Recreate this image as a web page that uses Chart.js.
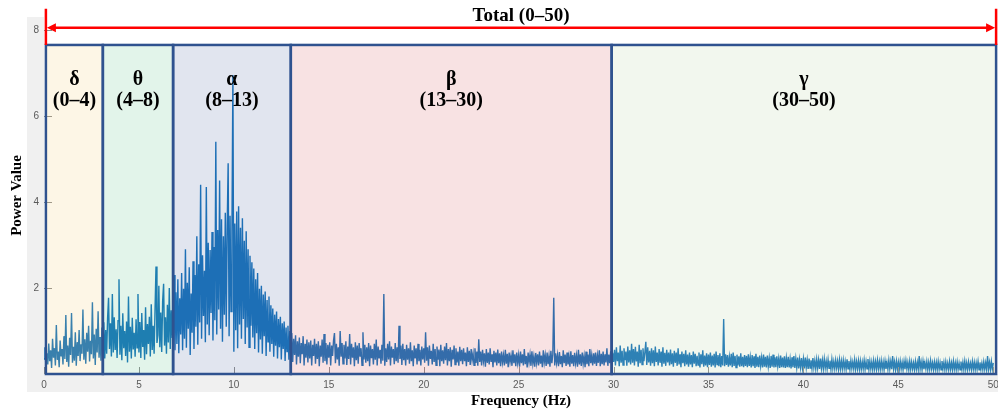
<!DOCTYPE html>
<html>
<head>
<meta charset="utf-8">
<script src="https://cdn.jsdelivr.net/npm/chart.js@4.4.0/dist/chart.umd.min.js"></script>
<style>
  html, body { margin: 0; padding: 0; background: #fff; }
  canvas { display: block; }
</style>
</head>
<body>
<canvas id="grafico" width="998" height="412"></canvas>
<script>
// espectro de potência, uma amostra a cada 0.05 Hz (0 a 50 Hz), uma linha por Hz
const freqStep = 0.05;
const powerValues = [
  0.35,0.62,0.18,0.48,0.22,0.71,0.3,0.55,0.14,0.82,0.38,0.6,0.2,1.14,0.33,0.52,0.16,0.78,0.41,0.58,
  0.22,0.88,0.35,1.37,0.28,0.66,0.17,0.84,0.44,1.42,0.26,0.63,0.31,0.97,0.19,0.74,0.42,1.02,0.3,0.69,
  0.47,1.5,0.33,0.81,0.24,0.96,0.52,1.12,0.29,0.77,0.46,1.67,0.36,0.92,0.21,1.05,0.5,1.46,0.38,0.86,
  0.31,1.08,0.52,1.2,0.36,1.02,0.47,1.3,1.77,0.58,1.18,0.41,1.86,0.5,1.32,0.56,1.04,0.37,1.24,2.2,
  0.45,1.12,0.32,1.41,0.6,1.0,0.42,1.22,0.27,1.8,0.52,1.1,0.36,1.31,0.57,0.96,0.4,1.27,0.61,1.86,
  0.5,1.21,0.37,1.42,0.63,1.02,0.33,1.55,0.46,1.16,0.7,1.33,0.41,1.62,0.56,1.12,0.47,1.52,2.5,0.72,
  0.9,2.05,0.62,1.43,0.51,1.7,2.1,0.66,1.32,0.47,1.61,0.73,2.0,0.58,1.48,0.84,1.66,2.3,0.55,1.9,
  0.7,2.2,0.48,1.76,0.92,2.35,0.55,1.98,0.82,2.9,0.61,2.12,1.05,2.48,0.44,1.87,0.96,2.62,0.58,2.3,
  1.1,3.2,0.68,2.55,1.2,4.4,0.82,2.76,1.35,2.4,0.74,4.35,1.15,3.05,0.9,2.88,1.42,3.3,0.78,2.95,
  1.25,5.4,0.92,3.35,1.5,4.5,1.05,3.6,0.75,3.2,1.38,3.75,1.1,3.45,4.9,0.88,3.68,1.45,3.3,6.95,
  0.52,3.5,1.02,3.78,0.6,3.9,1.15,3.4,0.82,3.62,1.28,3.1,0.7,3.32,1.08,2.9,0.62,2.75,1.12,2.6,
  0.85,2.45,0.58,2.2,0.95,2.35,0.5,1.98,0.8,2.05,0.47,1.85,0.88,1.92,0.42,1.72,0.75,1.8,0.52,1.6,
  0.7,1.52,0.4,1.38,0.66,1.45,0.36,1.28,0.62,1.33,0.34,1.18,0.58,1.22,0.3,1.08,0.52,1.12,0.33,1.0,
  0.48,0.95,0.28,0.82,0.44,0.9,0.22,0.76,0.4,0.85,0.25,0.72,0.46,0.88,0.2,0.7,0.38,0.8,0.27,0.74,
  0.36,0.78,0.2,0.68,0.42,0.82,0.24,0.7,0.35,0.76,0.18,0.66,0.4,0.8,0.26,0.93,0.3,0.72,0.22,0.68,
  0.38,0.74,0.2,0.66,0.42,0.78,0.95,0.25,0.7,0.34,0.62,0.19,1.0,0.4,0.72,0.24,0.68,0.36,0.76,0.21,
  0.64,0.35,0.93,0.22,0.7,0.38,0.62,0.18,0.74,0.32,0.66,0.24,0.72,0.4,0.6,0.2,0.97,0.34,0.68,0.26,
  0.62,0.3,0.72,0.18,0.66,0.37,0.58,0.22,0.7,0.33,0.8,0.2,0.64,0.36,0.56,0.24,0.68,0.31,1.86,0.19,
  0.6,0.28,0.7,0.34,0.76,0.2,0.64,0.38,0.58,0.23,0.72,0.3,0.62,0.26,1.12,0.35,0.66,0.21,0.7,0.32,
  0.58,0.2,0.68,0.33,0.6,0.24,0.74,0.3,0.55,0.18,0.66,0.36,0.6,0.22,0.7,0.3,0.56,0.2,0.64,0.34,
  0.6,0.26,0.97,0.31,0.62,0.19,0.66,0.35,0.54,0.22,0.7,0.28,0.58,0.2,0.64,0.33,0.57,0.18,0.68,0.3,
  0.55,0.24,0.64,0.32,0.72,0.2,0.58,0.3,0.62,0.17,0.56,0.34,0.66,0.22,0.6,0.27,0.52,0.19,0.63,0.3,
  0.56,0.23,0.6,0.3,0.5,0.18,0.62,0.28,0.54,0.21,0.58,0.32,0.48,0.2,0.6,0.26,0.52,0.19,0.81,0.28,
  0.52,0.2,0.56,0.3,0.48,0.17,0.58,0.26,0.5,0.22,0.6,0.28,0.46,0.16,0.54,0.27,0.5,0.2,0.57,0.25,
  0.48,0.18,0.52,0.27,0.44,0.2,0.56,0.24,0.47,0.16,0.5,0.28,0.43,0.19,0.55,0.25,0.46,0.18,0.5,0.26,
  0.44,0.17,0.52,0.25,0.46,0.2,0.58,0.23,0.42,0.15,0.5,0.27,0.45,0.19,0.53,0.24,0.41,0.17,0.49,0.26,
  0.46,0.2,0.52,0.24,0.43,0.16,0.55,0.27,0.44,0.19,0.5,0.23,0.42,0.17,0.54,0.25,0.45,1.77,0.2,0.48,
  0.26,0.44,0.18,0.51,0.23,0.42,0.16,0.55,0.25,0.45,0.19,0.5,0.22,0.41,0.17,0.53,0.24,0.44,0.18,0.49,
  0.25,0.43,0.17,0.56,0.22,0.46,0.19,0.5,0.24,0.42,0.16,0.52,0.23,0.45,0.18,0.58,0.25,0.44,0.2,0.48,
  0.24,0.5,0.19,0.44,0.26,0.55,0.18,0.47,0.23,0.52,0.2,0.46,0.27,0.6,0.19,0.45,0.25,0.53,0.21,0.49,
  0.28,0.56,0.2,0.62,0.3,0.5,0.18,0.66,0.26,0.54,0.21,0.6,0.32,0.52,0.19,0.64,0.27,0.55,0.22,0.7,
  0.26,0.58,0.2,0.63,0.29,0.52,0.17,0.68,0.25,0.56,0.22,0.6,0.3,0.5,0.75,0.21,0.62,0.27,0.54,0.19,
  0.6,0.25,0.55,0.18,0.64,0.28,0.5,0.2,0.58,0.26,0.52,0.17,0.62,0.24,0.49,0.19,0.56,0.27,0.5,0.2,
  0.57,0.23,0.48,0.17,0.54,0.26,0.5,0.19,0.6,0.22,0.46,0.16,0.52,0.25,0.47,0.18,0.55,0.22,0.45,0.17,
  0.5,0.22,0.44,0.16,0.52,0.24,0.47,0.18,0.42,0.21,0.5,0.15,0.46,0.23,0.55,0.17,0.43,0.2,0.48,0.16,
  0.45,0.21,0.5,0.17,0.43,0.2,0.47,0.15,0.52,0.22,0.44,0.18,0.48,0.16,0.42,0.2,1.28,0.18,0.46,0.21,
  0.44,0.17,0.4,0.2,0.47,0.16,0.5,0.19,0.42,0.15,0.45,0.2,0.41,0.17,0.48,0.18,0.4,0.16,0.44,0.19,
  0.42,0.16,0.46,0.19,0.39,0.15,0.44,0.18,0.41,0.14,0.47,0.17,0.4,0.16,0.43,0.19,0.38,0.15,0.45,0.17,
  0.4,0.15,0.43,0.18,0.37,0.14,0.42,0.17,0.45,0.15,0.39,0.16,0.41,0.18,0.36,0.14,0.43,0.16,0.38,0.15,
  0.41,0.14,0.37,0.16,0.4,0.15,0.35,0.13,0.39,0.16,0.42,0.14,0.36,0.15,0.38,0.13,0.34,0.15,0.37,0.14,
  0.35,0.13,0.38,0.15,0.33,0.12,0.36,0.14,0.32,0.13,0.37,0.15,0.31,0.12,0.34,0.14,0.33,0.12,0.36,0.13,
  0.32,0.12,0.35,0.14,0.3,0.12,0.33,0.13,0.31,0.11,0.34,0.13,0.29,0.12,0.32,0.14,0.3,0.11,0.33,0.12,
  0.3,0.12,0.32,0.13,0.29,0.11,0.34,0.12,0.3,0.11,0.31,0.13,0.28,0.12,0.33,0.11,0.29,0.12,0.31,0.11,
  0.3,0.11,0.28,0.12,0.32,0.11,0.29,0.12,0.35,0.11,0.3,0.12,0.28,0.1,0.31,0.12,0.29,0.11,0.32,0.12,
  0.29,0.11,0.31,0.12,0.28,0.1,0.3,0.12,0.27,0.11,0.32,0.12,0.29,0.11,0.42,0.12,0.28,0.1,0.3,0.11,
  0.28,0.11,0.3,0.12,0.27,0.1,0.29,0.11,0.31,0.12,0.27,0.1,0.3,0.11,0.28,0.12,0.26,0.1,0.29,0.11,
  0.27,0.11,0.42,0.12,0.28,0.1,0.3,0.11,0.26,0.12,0.29,0.1,0.27,0.11,0.31,0.12,0.26,0.1,0.28,0.11,
  0.27,0.1,0.29,0.11,0.26,0.1,0.3,0.12,0.27,0.1,0.28,0.11,0.25,0.1,0.29,0.11,0.26,0.1,0.3,0.11,
  0.26,0.1,0.28,0.11,0.25,0.1,0.29,0.11,0.27,0.1,0.3,0.11,0.26,0.1,0.28,0.12,0.25,0.1,0.29,0.11,
  0.27,0.1,0.26,0.11,0.29,0.1,0.27,0.11,0.25,0.1,0.28,0.11,0.26,0.1,0.42,0.11,0.27,0.1,0.29,0.11,
  0.26
];
const xTickValues = [0, 5, 10, 15, 20, 25, 30, 35, 40, 45, 50];
const yTickValues = [2, 4, 6, 8];

// faixas de frequência (bordas como aparecem no desenho)
const bandNames = ['δ', 'θ', 'α', 'β', 'γ'];
const bandRanges = ['(0–4)', '(4–8)', '(8–13)', '(13–30)', '(30–50)'];
const bandEdges = [0.1, 3.1, 6.8, 13.0, 29.9, 50.15];
const totalLabel = 'Total (0–50)';

// estilos
const bandFills = [
  'rgba(245,210,130,0.2)',
  'rgba(110,200,150,0.2)',
  'rgba(105,125,175,0.2)',
  'rgba(220,110,115,0.2)',
  'rgba(190,215,170,0.2)'
];
const serif = "'Liberation Serif', 'Times New Roman', serif";
const sans = "'Liberation Sans', Arial, sans-serif";
const boxTop = 7.65;      // topo das caixas (unidades do eixo y)
const arrowY = 8.05;      // seta vermelha
const arrowTopY = 8.49;
const letterY = 6.72;     // linha das letras gregas
const rangeY = 6.22;      // linha dos intervalos
const totalY = 8.21;

const bandPlugin = {
  id: 'bandas',
  beforeDraw(chart) {
    const { ctx, chartArea: a } = chart;
    ctx.save();
    ctx.fillStyle = '#ffffff';
    ctx.fillRect(0, 0, chart.width, chart.height);
    // fundo cinza da figura
    ctx.fillStyle = '#f0f0f0';
    ctx.fillRect(a.left - 17, a.top, chart.width - (a.left - 17), a.bottom + 18 - a.top);
    ctx.fillStyle = '#ffffff';
    ctx.fillRect(a.left, a.top, a.right - a.left, a.bottom - a.top);
    ctx.restore();
  },
  afterDatasetsDraw(chart) {
    const { ctx, chartArea: a } = chart;
    const xs = chart.scales.x, ys = chart.scales.y;
    const px = v => xs.getPixelForValue(v);
    const py = v => ys.getPixelForValue(v);
    ctx.save();

    // marcas dos ticks (para dentro)
    ctx.strokeStyle = '#8a8a8a';
    ctx.lineWidth = 1;
    yTickValues.forEach(v => {
      const y = Math.round(py(v)) + 0.5;
      ctx.beginPath(); ctx.moveTo(a.left, y); ctx.lineTo(a.left + 8, y); ctx.stroke();
    });
    xTickValues.forEach(v => {
      const x = Math.round(px(v)) + 0.5;
      ctx.beginPath(); ctx.moveTo(x, a.bottom); ctx.lineTo(x, a.bottom - 7); ctx.stroke();
    });

    // caixas coloridas por cima do sinal
    const top = py(boxTop), bottom = py(0);
    for (let i = 0; i < bandNames.length; i++) {
      const x0 = px(bandEdges[i]), x1 = px(bandEdges[i + 1]);
      ctx.fillStyle = bandFills[i];
      ctx.fillRect(x0, top, x1 - x0, bottom - top);
    }
    ctx.strokeStyle = '#2F528F';
    ctx.lineWidth = 2.5;
    for (let i = 0; i < bandNames.length; i++) {
      const x0 = px(bandEdges[i]), x1 = px(bandEdges[i + 1]);
      ctx.strokeRect(x0, top, x1 - x0, bottom - top);
    }

    // textos das faixas
    ctx.fillStyle = '#000';
    ctx.textAlign = 'center';
    ctx.textBaseline = 'alphabetic';
    ctx.font = 'bold 20px ' + serif;
    for (let i = 0; i < bandNames.length; i++) {
      const xc = (px(bandEdges[i]) + px(bandEdges[i + 1])) / 2;
      ctx.fillText(bandNames[i], xc, py(letterY));
      ctx.fillText(bandRanges[i], xc, py(rangeY));
    }

    // seta vermelha do total
    const xl = px(bandEdges[0]), xr = px(bandEdges[bandEdges.length - 1]);
    const ya = py(arrowY);
    ctx.strokeStyle = '#FF0000';
    ctx.fillStyle = '#FF0000';
    ctx.lineWidth = 2.5;
    ctx.beginPath();
    ctx.moveTo(xl, py(arrowTopY)); ctx.lineTo(xl, top);
    ctx.moveTo(xr, py(arrowTopY)); ctx.lineTo(xr, top);
    ctx.moveTo(xl + 6, ya); ctx.lineTo(xr - 6, ya);
    ctx.stroke();
    ctx.beginPath();
    ctx.moveTo(xl + 1, ya); ctx.lineTo(xl + 10, ya - 4.5); ctx.lineTo(xl + 10, ya + 4.5); ctx.closePath();
    ctx.moveTo(xr - 1, ya); ctx.lineTo(xr - 10, ya - 4.5); ctx.lineTo(xr - 10, ya + 4.5); ctx.closePath();
    ctx.fill();

    ctx.fillStyle = '#000';
    ctx.font = 'bold 19px ' + serif;
    ctx.fillText(totalLabel, (xl + xr) / 2, py(totalY));
    ctx.restore();
  }
};

const ctx = document.getElementById('grafico').getContext('2d');
const points = powerValues.map((v, i) => ({ x: Math.round(i * freqStep * 100) / 100, y: v }));

new Chart(ctx, {
  type: 'line',
  data: {
    datasets: [{
      data: points,
      borderColor: '#0a6cb8',
      borderWidth: 1.4,
      pointRadius: 0,
      tension: 0,
      fill: false
    }]
  },
  options: {
    responsive: false,
    animation: false,
    devicePixelRatio: 1,
    layout: { padding: { top: 17, left: 0, right: 0, bottom: 0 } },
    plugins: { legend: { display: false }, tooltip: { enabled: false } },
    scales: {
      x: {
        type: 'linear',
        min: 0,
        max: 50.25,
        afterBuildTicks: s => { s.ticks = xTickValues.map(v => ({ value: v })); },
        afterFit: s => { s.height = 38; s.paddingLeft = 0; s.paddingRight = 0; },
        grid: { display: false, drawTicks: false },
        border: { display: false },
        ticks: { padding: 5, color: '#5a5a5a', font: { family: sans, size: 10 }, maxRotation: 0, autoSkip: false },
        title: { display: true, text: 'Frequency (Hz)', color: '#000', padding: { top: 0, bottom: 2 },
                 font: { family: serif, size: 15, weight: 'bold', lineHeight: 1.2 } }
      },
      y: {
        min: 0,
        max: 8.3,
        afterBuildTicks: s => { s.ticks = yTickValues.map(v => ({ value: v })); },
        afterFit: s => { s.width = 44; s.paddingTop = 0; s.paddingBottom = 0; },
        grid: { display: false, drawTicks: false },
        border: { display: false },
        ticks: { padding: 5, color: '#5a5a5a', font: { family: sans, size: 10 } },
        title: { display: true, text: 'Power Value', color: '#000', padding: { top: 8, bottom: 0 },
                 font: { family: serif, size: 15, weight: 'bold', lineHeight: 1.2 } }
      }
    }
  },
  plugins: [bandPlugin]
});
</script>
</body>
</html>
